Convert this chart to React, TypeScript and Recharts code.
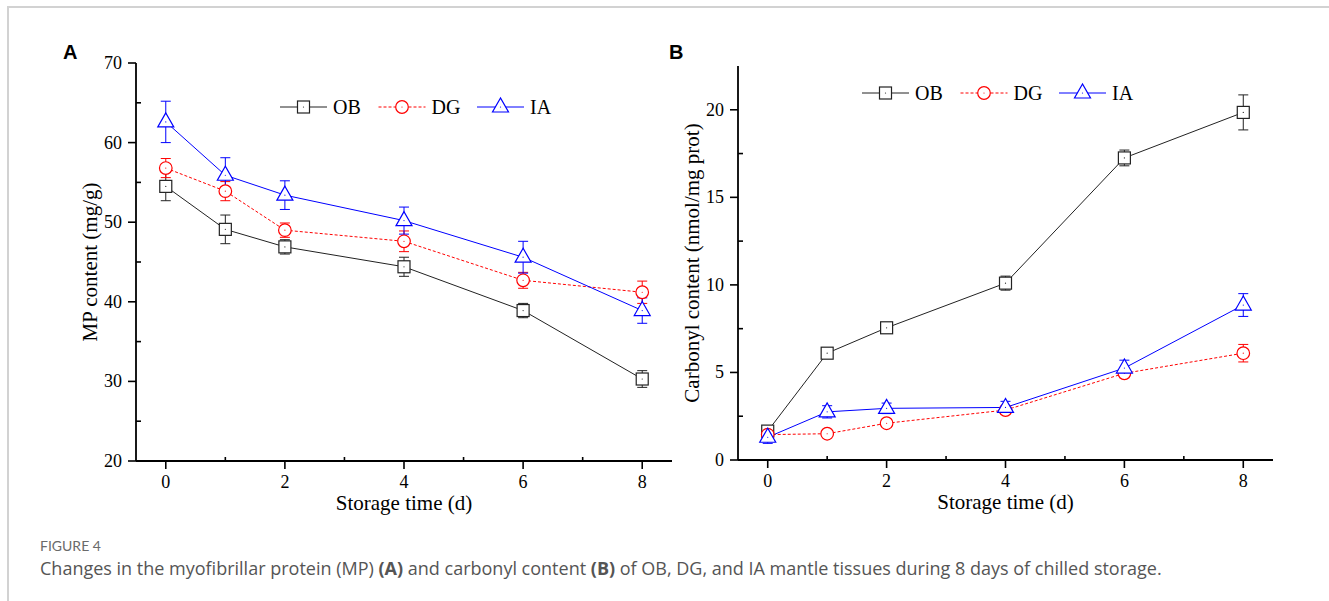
import React from 'react'
import { LineChart, Line, XAxis, YAxis, ErrorBar, Legend, Label } from 'recharts'

// storage days
const days = [0, 1, 2, 4, 6, 8]
const seriesNames = ['OB', 'DG', 'IA']

// panel A: MP content (mg/g)
const mpOB = [54.5, 49.1, 46.9, 44.4, 38.9, 30.3]
const mpOBErr = [1.8, 1.8, 0.9, 1.2, 0.9, 1.05]
const mpDG = [56.8, 53.9, 49.0, 47.6, 42.7, 41.2]
const mpDGErr = [1.2, 1.2, 0.9, 1.3, 1.0, 1.4]
const mpIA = [62.6, 55.9, 53.4, 50.2, 45.6, 38.9]
const mpIAErr = [2.6, 2.2, 1.8, 1.7, 2.0, 1.6]

// panel B: carbonyl content (nmol/mg prot)
const cbOB = [1.65, 6.1, 7.55, 10.1, 17.25, 19.85]
const cbOBErr = [0.2, 0.2, 0.2, 0.4, 0.45, 1.0]
const cbDG = [1.45, 1.5, 2.1, 2.85, 4.95, 6.1]
const cbDGErr = [0.2, 0.15, 0.2, 0.2, 0.25, 0.5]
const cbIA = [1.3, 2.75, 2.95, 3.0, 5.25, 8.85]
const cbIAErr = [0.35, 0.35, 0.3, 0.35, 0.45, 0.65]

const xTicks = [0, 1, 2, 3, 4, 5, 6, 7, 8]
const xLabelTicks = [0, 2, 4, 6, 8]
const mpTicks = [20, 25, 30, 35, 40, 45, 50, 55, 60, 65, 70]
const mpLabelTicks = [20, 30, 40, 50, 60, 70]
const cbTicks = [0, 2.5, 5, 7.5, 10, 12.5, 15, 17.5, 20]
const cbLabelTicks = [0, 5, 10, 15, 20]

const SERIF = '"Liberation Serif", "Times New Roman", serif'
const COLORS: Record<string, string> = { OB: '#222222', DG: '#ff0000', IA: '#0000ff' }
const DASH: Record<string, string | undefined> = { OB: undefined, DG: '3 2', IA: undefined }

function buildRows(ob: number[], obErr: number[], dg: number[], dgErr: number[], ia: number[], iaErr: number[]) {
  return days.map((day, i) => ({
    day,
    OB: ob[i], OBErr: obErr[i],
    DG: dg[i], DGErr: dgErr[i],
    IA: ia[i], IAErr: iaErr[i],
  }))
}

const mpRows = buildRows(mpOB, mpOBErr, mpDG, mpDGErr, mpIA, mpIAErr)
const cbRows = buildRows(cbOB, cbOBErr, cbDG, cbDGErr, cbIA, cbIAErr)

function Marker({ kind, cx, cy }: { kind: string; cx: number; cy: number }) {
  const c = COLORS[kind]
  let shape
  if (kind === 'OB') {
    shape = <rect x={cx - 6} y={cy - 6} width={12} height={12} fill="#fff" stroke={c} strokeWidth={1.2} />
  } else if (kind === 'DG') {
    shape = <circle cx={cx} cy={cy} r={6.3} fill="#fff" stroke={c} strokeWidth={1.2} />
  } else {
    shape = (
      <polygon
        points={`${cx},${cy - 9} ${cx - 8},${cy + 5} ${cx + 8},${cy + 5}`}
        fill="#fff"
        stroke={c}
        strokeWidth={1.2}
      />
    )
  }
  return (
    <g>
      {shape}
      <circle cx={cx} cy={cy} r={0.6} fill={c} />
    </g>
  )
}

function XTick(props: any) {
  const { x, y, payload } = props
  const major = xLabelTicks.includes(payload.value)
  return (
    <g>
      <line x1={x} x2={x} y1={y} y2={major ? y + 8 : y - 4} stroke="#000" strokeWidth={1.6} />
      {major && (
        <text x={x} y={y + 27} textAnchor="middle" style={{ fontSize: 18, fontFamily: SERIF }} fill="#000">
          {payload.value}
        </text>
      )}
    </g>
  )
}

function makeYTick(labels: number[]) {
  return (props: any) => {
    const { x, y, payload } = props
    const major = labels.includes(payload.value)
    return (
      <g>
        <line x1={major ? x - 8 : x} x2={major ? x : x + 5} y1={y} y2={y} stroke="#000" strokeWidth={1.6} />
        {major && (
          <text x={x - 14} y={y + 6} textAnchor="end" style={{ fontSize: 18, fontFamily: SERIF }} fill="#000">
            {payload.value}
          </text>
        )}
      </g>
    )
  }
}

function LegendRow() {
  return (
    <svg width={300} height={26} style={{ display: 'block', overflow: 'visible' }}>
      {seriesNames.map((name, i) => {
        const x0 = i * 98.5
        return (
          <g key={name}>
            <line x1={x0} x2={x0 + 47} y1={13} y2={13} stroke={COLORS[name]} strokeWidth={1} strokeDasharray={DASH[name]} />
            <Marker kind={name} cx={x0 + 23.5} cy={13} />
            <text x={x0 + 53} y={20} fontSize={20} fontFamily={SERIF} fill="#000">
              {name}
            </text>
          </g>
        )
      })}
    </svg>
  )
}

function Panel({
  rows, width, yDomain, yTicks, yLabels, yTitle, margin, legendPos,
}: {
  rows: any[]; width: number; yDomain: [number, number]; yTicks: number[]; yLabels: number[]; yTitle: string
  margin: { top: number; right: number; bottom: number; left: number }; legendPos: { left: number; top: number }
}) {
  return (
    <LineChart width={width} height={540} data={rows} margin={margin}>
      <XAxis
        dataKey="day"
        type="number"
        domain={[-0.5, 8.5]}
        ticks={xTicks}
        interval={0}
        allowDataOverflow
        height={49}
        tickSize={0}
        tickMargin={0}
        tickLine={false}
        tick={<XTick />}
        axisLine={{ stroke: '#000', strokeWidth: 1.8 }}
      >
        <Label value="Storage time (d)" position="insideBottom" offset={0} style={{ fontSize: 21, fontFamily: SERIF, fill: '#000' }} />
      </XAxis>
      <YAxis
        type="number"
        domain={yDomain}
        ticks={yTicks}
        interval={0}
        allowDataOverflow
        width={60}
        tickSize={0}
        tickMargin={0}
        tickLine={false}
        tick={makeYTick(yLabels)}
        axisLine={{ stroke: '#000', strokeWidth: 1.8 }}
      >
        <Label value={yTitle} angle={-90} position="insideLeft" offset={14} style={{ fontSize: 21, fontFamily: SERIF, fill: '#000', textAnchor: 'middle' }} />
      </YAxis>
      <Legend
        layout="horizontal"
        verticalAlign="middle"
        align="center"
        wrapperStyle={{ left: legendPos.left, top: legendPos.top, width: 300 }}
        content={() => <LegendRow />}
      />
      {seriesNames.map((name) => (
        <Line
          key={name}
          name={name}
          dataKey={name}
          type="linear"
          stroke={COLORS[name]}
          strokeWidth={1}
          strokeDasharray={DASH[name]}
          isAnimationActive={false}
          activeDot={false}
          dot={(p: any) => <Marker key={`${name}-${p.index}`} kind={name} cx={p.cx} cy={p.cy} />}
        >
          <ErrorBar dataKey={`${name}Err`} direction="y" width={5} stroke={COLORS[name]} strokeWidth={1} isAnimationActive={false} />
        </Line>
      ))}
    </LineChart>
  )
}

export default function App() {
  return (
    <div style={{ position: 'absolute', left: 0, top: 0, width: 1329, height: 601, overflow: 'hidden', background: '#fff' }}>
      <div
        style={{
          position: 'absolute', left: 7, top: 6, width: 1400, height: 700,
          borderTop: '2px solid #d2d2d2', borderLeft: '2px solid #d2d2d2',
        }}
      />
      <div style={{ position: 'absolute', left: 0, top: 0 }}>
        <Panel
          rows={mpRows}
          width={700}
          yDomain={[20, 70]}
          yTicks={mpTicks}
          yLabels={mpLabelTicks}
          yTitle="MP content (mg/g)"
          margin={{ top: 63, right: 28, bottom: 30, left: 76 }}
          legendPos={{ left: 280, top: 94 }}
        />
      </div>
      <div style={{ position: 'absolute', left: 620, top: 0 }}>
        <Panel
          rows={cbRows}
          width={680}
          yDomain={[0, 22.5]}
          yTicks={cbTicks}
          yLabels={cbLabelTicks}
          yTitle="Carbonyl content (nmol/mg prot)"
          margin={{ top: 66, right: 27, bottom: 31, left: 58 }}
          legendPos={{ left: 242, top: 80 }}
        />
      </div>
      <svg width={1329} height={601} style={{ position: 'absolute', left: 0, top: 0, pointerEvents: 'none' }}>
        <text x={63} y={59} fontSize={20} fontWeight="bold" fontFamily='"Liberation Sans", Arial, sans-serif' fill="#000">A</text>
        <text x={669} y={59} fontSize={20} fontWeight="bold" fontFamily='"Liberation Sans", Arial, sans-serif' fill="#000">B</text>
        <text x={40} y={551} fontSize={14} fontFamily="Lato, sans-serif" fill="#6a6a6a">FIGURE 4</text>
        <text x={40} y={575} fontSize={18} fontFamily='"Open Sans", sans-serif' fill="#555">
          Changes in the myofibrillar protein (MP) <tspan fontWeight="bold">(A)</tspan> and carbonyl content{' '}
          <tspan fontWeight="bold">(B)</tspan> of OB, DG, and IA mantle tissues during 8 days of chilled storage.
        </text>
      </svg>
    </div>
  )
}
